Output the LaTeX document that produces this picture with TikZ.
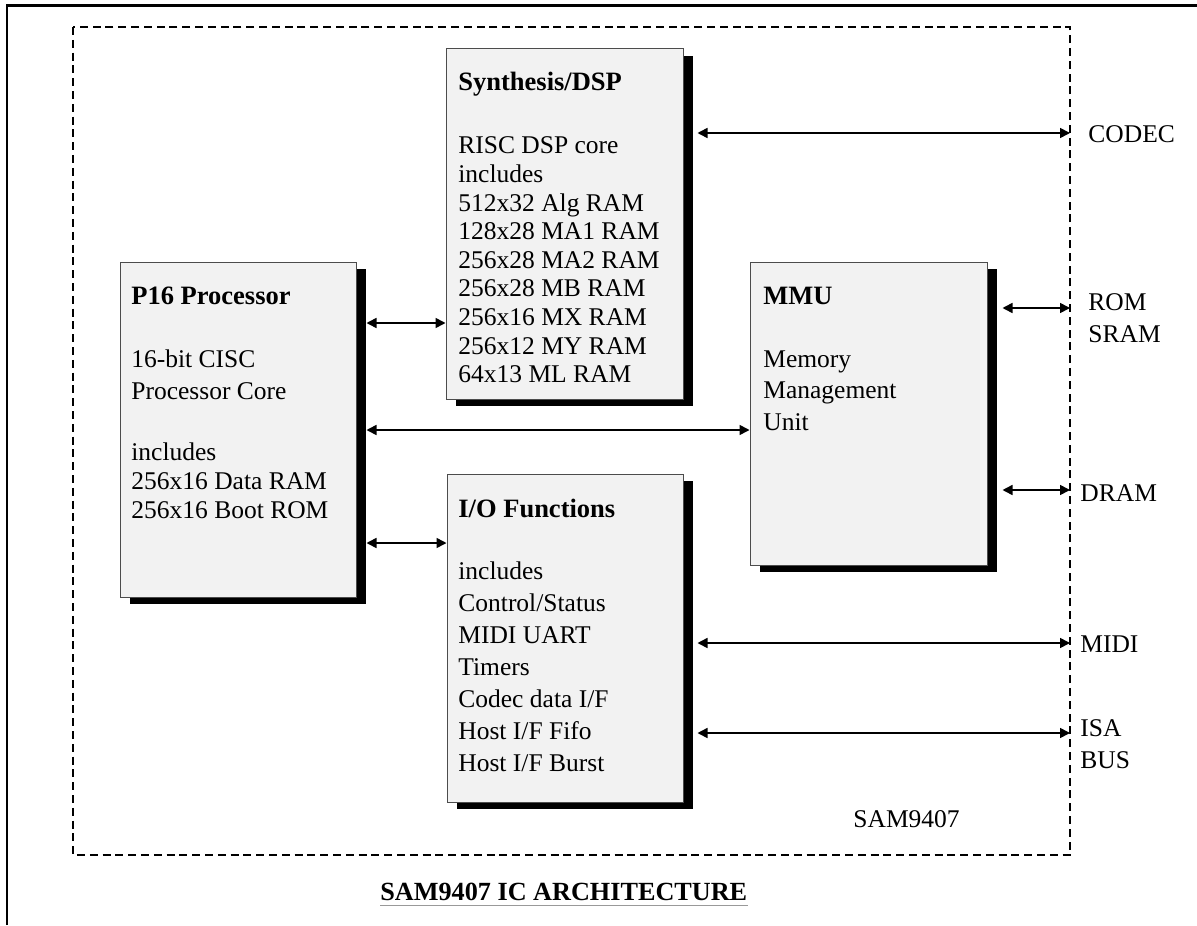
\documentclass[tikz,border=0pt]{standalone}
\usepackage{fontspec}
\setmainfont{Liberation Serif}
\usetikzlibrary{fit,shadows,arrows.meta}
\definecolor{boxgray}{HTML}{F2F2F2}
\newcommand{\linestack}[1]{\begin{tabular}[t]{@{}l@{}}#1\end{tabular}}
\begin{document}
\begin{tikzpicture}[x=0.5pt,y=-0.5pt,
  block/.style={draw=black!70, line width=0.5pt, fill=boxgray, inner sep=0pt,
    drop shadow={fill=black, opacity=1, shadow xshift=5pt, shadow yshift=-3.5pt}},
  frame/.style={line width=1.1pt},
  chipline/.style={line width=0.9pt, dash pattern=on 4pt off 2.4pt},
  link/.style={line width=0.8pt, {Triangle[length=5pt,width=5pt]}-{Triangle[length=5pt,width=5pt]}},
  ttl/.style={anchor=base west, inner sep=0pt, font=\fontsize{13.25}{15}\selectfont\bfseries},
  body/.style={anchor=base west, inner sep=0pt, font=\fontsize{12.75}{#1}\selectfont},
  lbl/.style={anchor=base west, inner sep=0pt, font=\fontsize{12.75}{16}\selectfont},
  uline/.style={draw=black!40, line width=0.6pt}
]
\useasboundingbox (0,0) rectangle (1197,925);

% outer frame (top and left edges)
\coordinate (fBL) at (7,925);
\coordinate (fTL) at (7,5.5);
\coordinate (fTR) at (1197,5.5);
\draw[frame] (fBL) -- (fTL) -- (fTR);

% chip boundary
\coordinate (chipNW) at (73,27);
\coordinate (chipSE) at (1070,855);
\draw[chipline] (chipNW) rectangle (chipSE);

% blocks
\node[block, fit={(120,262) (356,597)}] (p16) {};
\node[block, fit={(446,49) (683,399)}] (dsp) {};
\node[block, fit={(750,262) (987,565)}] (mmu) {};
\node[block, fit={(447,474) (683,802)}] (io) {};

% block texts
\node[ttl] (p16t) at (131,304) {P16 Processor};
\node[body=16pt] (p16a) at (131,367) {\linestack{16-bit CISC\\Processor Core}};
\node[body=14.5pt] (p16b) at (131,460) {\linestack{includes\\256x16 Data RAM\\256x16 Boot ROM}};

\node[ttl] (dspt) at (458,91) {Synthesis/DSP};
\node[body=14.3pt] (dspb) at (458,154) {\linestack{RISC DSP core\\includes\\512x32 Alg RAM\\128x28 MA1 RAM\\256x28 MA2 RAM\\256x28 MB RAM\\256x16 MX RAM\\256x12 MY RAM\\64x13 ML RAM}};

\node[ttl] (mmut) at (763,304) {MMU};
\node[body=15.75pt] (mmub) at (763,367) {\linestack{Memory\\Management\\Unit}};

\node[ttl] (iot) at (458,517) {I/O Functions};
\node[body=16pt] (iob) at (458,579) {\linestack{includes\\Control/Status\\MIDI UART\\Timers\\Codec data I/F\\Host I/F Fifo\\Host I/F Burst}};

% external labels
\node[lbl] (codec) at (1088,143) {CODEC};
\node[lbl] (romsram) at (1088,310) {\linestack{ROM\\SRAM}};
\node[lbl] (dram) at (1080,501) {DRAM};
\node[lbl] (midi) at (1080,652) {MIDI};
\node[lbl] (isa) at (1080,736) {\linestack{ISA\\BUS}};
\node[lbl] (chipname) at (853,827) {SAM9407};

% title
\node[anchor=base west, inner sep=0pt, font=\fontsize{13.1}{15}\selectfont\bfseries] (title) at (380,900) {SAM9407 IC ARCHITECTURE};
\draw[uline] ([yshift=-2.6pt]title.base west) -- ([yshift=-2.6pt]title.base east);

% connectors
\draw[link] ([xshift=7pt]dsp.east |- 0,133) -- (chipSE |- 0,133);
\draw[link] ([xshift=5pt]p16.east |- 0,323) -- (dsp.west |- 0,323);
\draw[link] ([xshift=5pt]p16.east |- 0,430) -- (mmu.west |- 0,430);
\draw[link] ([xshift=5pt]p16.east |- 0,543) -- (io.west |- 0,543);
\draw[link] ([xshift=7.5pt]mmu.east |- 0,308) -- (chipSE |- 0,308);
\draw[link] ([xshift=7.5pt]mmu.east |- 0,490) -- (chipSE |- 0,490);
\draw[link] ([xshift=7pt]io.east |- 0,643) -- (chipSE |- 0,643);
\draw[link] ([xshift=7pt]io.east |- 0,733) -- (chipSE |- 0,733);
\end{tikzpicture}
\end{document}
